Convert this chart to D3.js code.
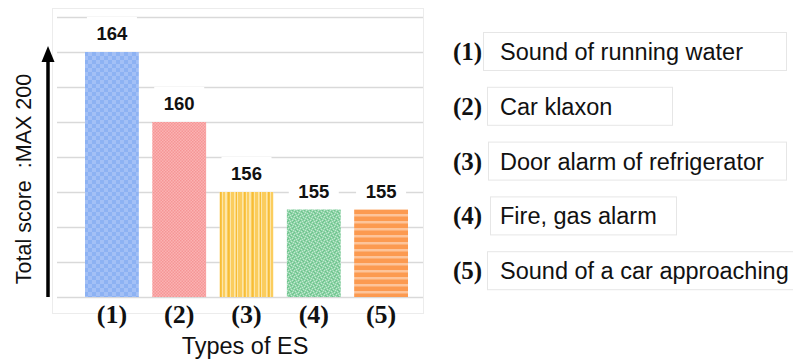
<!DOCTYPE html>
<html>
<head>
<meta charset="utf-8">
<script src="https://cdn.jsdelivr.net/npm/d3@7"></script>
<style>
  html, body { margin: 0; padding: 0; background: #fff; }
  svg { display: block; }
</style>
</head>
<body>
<svg id="chart" width="793" height="360"></svg>
<script>
// Evaluation scores for each type of environmental sound (ES)
const categories = ["(1)", "(2)", "(3)", "(4)", "(5)"];
const scores = [164, 160, 156, 155, 155];
const soundNames = [
  "Sound of running water",
  "Car klaxon",
  "Door alarm of refrigerator",
  "Fire, gas alarm",
  "Sound of a car approaching"
];
const yTicks = [150, 152, 154, 156, 158, 160, 162, 164, 166];
const yLabel = "Total score  :MAX 200";
const xLabel = "Types of ES";

// Layout
const W = 793, H = 360;
const plot = { left: 57, right: 423, top: 17, bottom: 297 };
const legendBoxW = [303, 185, 298, 186, 320];
const legendBoxX = [483.5, 487.5, 488.5, 490.5, 487.5];
const sans = "'Liberation Sans', Arial, sans-serif";
const serif = "'Liberation Serif', 'Times New Roman', serif";

const svg = d3.select("#chart");
const defs = svg.append("defs");

// Fill textures for the five bars
function checker(id, size, c1, c2) {
  const p = defs.append("pattern").attr("id", id)
    .attr("patternUnits", "userSpaceOnUse")
    .attr("width", size * 2).attr("height", size * 2);
  p.append("rect").attr("width", size * 2).attr("height", size * 2).attr("fill", c1);
  p.append("rect").attr("width", size).attr("height", size).attr("fill", c2);
  p.append("rect").attr("x", size).attr("y", size).attr("width", size).attr("height", size).attr("fill", c2);
}
checker("pat1", 4, "#a3c0f6", "#8db2f3");
checker("pat2", 1.5, "#fbb3b3", "#f59696");

// yellow vertical stripes of uneven width
(function () {
  const p = defs.append("pattern").attr("id", "pat3")
    .attr("patternUnits", "userSpaceOnUse").attr("width", 24).attr("height", 10);
  p.append("rect").attr("width", 24).attr("height", 10).attr("fill", "#fbcd5e");
  [[2, 1.5], [6, 1], [9, 2], [14, 1], [18, 1.5], [21, 1]].forEach(([x, w]) =>
    p.append("rect").attr("x", x).attr("y", 0).attr("width", w).attr("height", 10).attr("fill", "#fde6a8"));
  [[4, 1.5], [12, 1.5], [20, 1]].forEach(([x, w]) =>
    p.append("rect").attr("x", x).attr("y", 0).attr("width", w).attr("height", 10).attr("fill", "#f7bd36"));
})();

// green speckled texture
(function () {
  const p = defs.append("pattern").attr("id", "pat4")
    .attr("patternUnits", "userSpaceOnUse").attr("width", 6).attr("height", 6);
  p.append("rect").attr("width", 6).attr("height", 6).attr("fill", "#8fd3a8");
  [[0, 0], [3, 1], [1, 3], [4, 4], [2, 5], [5, 2]].forEach(([x, y]) =>
    p.append("rect").attr("x", x).attr("y", y).attr("width", 1).attr("height", 1).attr("fill", "#c4ead1"));
  [[1, 1], [4, 0], [0, 4], [3, 3], [5, 5], [2, 2]].forEach(([x, y]) =>
    p.append("rect").attr("x", x).attr("y", y).attr("width", 1).attr("height", 1).attr("fill", "#6cc38b"));
})();

// orange horizontal stripes
(function () {
  const p = defs.append("pattern").attr("id", "pat5")
    .attr("patternUnits", "userSpaceOnUse").attr("width", 10).attr("height", 7);
  p.append("rect").attr("width", 10).attr("height", 7).attr("fill", "#fc9a50");
  p.append("rect").attr("y", 4).attr("width", 10).attr("height", 2.5).attr("fill", "#fdc49a");
})();

const fills = ["url(#pat1)", "url(#pat2)", "url(#pat3)", "url(#pat4)", "url(#pat5)"];

// Scales
const x = d3.scaleBand().domain(categories).range([85, 408])
  .paddingInner(0.2).paddingOuter(0);
const y = d3.scaleLinear().domain([150, 166]).range([plot.bottom, plot.top]);

// faint chart frame
svg.append("rect")
  .attr("x", 52.5).attr("y", 8.5).attr("width", 371).attr("height", 305)
  .attr("fill", "none").attr("stroke", "#ececec").attr("stroke-width", 1);

// horizontal gridlines
const yAxis = d3.axisLeft(y).tickValues(yTicks).tickSize(-(plot.right - plot.left)).tickFormat("");
const gy = svg.append("g").attr("transform", `translate(${plot.left},0)`).call(yAxis);
gy.select(".domain").remove();
gy.selectAll(".tick line").attr("stroke", "#d9d9d9").attr("stroke-width", 1.5);

// bars
svg.append("g").selectAll("rect")
  .data(scores)
  .join("rect")
  .attr("x", (d, i) => x(categories[i]))
  .attr("y", d => y(d))
  .attr("width", x.bandwidth())
  .attr("height", d => y(150) - y(d))
  .attr("fill", (d, i) => fills[i]);

// value labels on white plates
const lab = svg.append("g").selectAll("g").data(scores).join("g")
  .attr("transform", (d, i) => `translate(${x(categories[i]) + x.bandwidth() / 2},${y(d) - 12})`);
lab.append("rect")
  .attr("x", -25).attr("y", -23).attr("width", 50).attr("height", 30)
  .attr("fill", "#fff");
lab.append("text")
  .attr("text-anchor", "middle")
  .attr("font-family", sans).attr("font-weight", "bold").attr("font-size", 18.5)
  .attr("fill", "#111")
  .text(d => d);

// x category labels
const xAxis = d3.axisBottom(x).tickSize(0).tickPadding(0);
const gx = svg.append("g").attr("transform", `translate(0,${plot.bottom})`).call(xAxis);
gx.select(".domain").remove();
gx.selectAll(".tick text")
  .attr("dy", null).attr("y", 26)
  .attr("font-family", serif).attr("font-weight", "bold").attr("font-size", 26)
  .attr("fill", "#111");

// axis titles
svg.append("text")
  .attr("x", 245).attr("y", 354)
  .attr("text-anchor", "middle")
  .attr("font-family", sans).attr("font-size", 23.5).attr("fill", "#111")
  .text(xLabel);

svg.append("text")
  .attr("transform", `translate(31,179) rotate(-90)`)
  .attr("text-anchor", "middle")
  .attr("font-family", sans).attr("font-size", 21.5).attr("fill", "#111")
  .attr("xml:space", "preserve")
  .style("white-space", "pre")
  .text(yLabel);

// upward arrow beside the score axis
svg.append("line")
  .attr("x1", 48).attr("x2", 48).attr("y1", y(150)).attr("y2", 58)
  .attr("stroke", "#000").attr("stroke-width", 3.5);
svg.append("path")
  .attr("d", "M48,46 L54.5,62 L41.5,62 Z")
  .attr("fill", "#000");

// legend
const leg = svg.append("g").selectAll("g").data(soundNames).join("g")
  .attr("transform", (d, i) => `translate(0,${32 + i * 54.8})`);
leg.append("rect")
  .attr("x", (d, i) => legendBoxX[i])
  .attr("y", 0.5)
  .attr("width", (d, i) => legendBoxW[i])
  .attr("height", 38)
  .attr("fill", "#fff").attr("stroke", "#e6e6e6");
leg.append("text")
  .attr("x", 453).attr("y", 28)
  .attr("font-family", serif).attr("font-weight", "bold").attr("font-size", 25)
  .attr("fill", "#111")
  .text((d, i) => categories[i]);
leg.append("text")
  .attr("x", 500).attr("y", 28)
  .attr("font-family", sans).attr("font-size", 23.5)
  .attr("fill", "#111")
  .text(d => d);
</script>
</body>
</html>
